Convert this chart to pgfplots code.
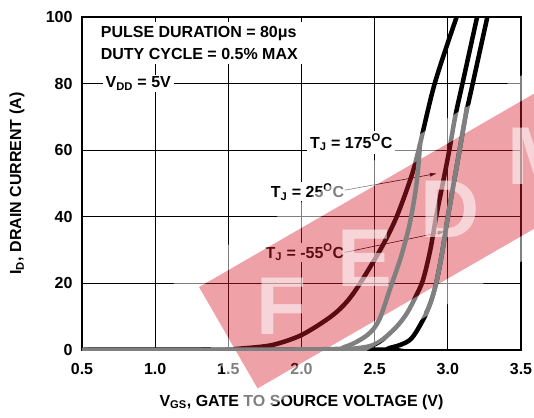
\documentclass[border=0pt]{standalone}
\usepackage{pgfplots}
\usepackage{pgfplotstable}
\pgfplotsset{compat=1.18}
\usepackage{fontspec}
\setmainfont{Liberation Sans}
\usetikzlibrary{arrows.meta}
\definecolor{wmred}{RGB}{215,30,45}
\newcommand{\fs}{\fontsize{16}{22}\selectfont\bfseries}

\pgfplotstableread{
V I
0.50 0
1.40 0.1
1.60 0.5
1.80 1.5
2.00 4.5
2.20 10.0
2.31 14.5
2.40 20
2.55 31
2.65 40
2.75 52
2.80 60
2.91 80
3.06 100
}\tHot
\pgfplotstableread{
V I
0.50 0
2.20 0.1
2.35 0.4
2.47 1.2
2.55 3
2.65 7
2.72 11
2.78 16
2.83 21
2.88 30
2.92 40
2.97 51
3.01 60
3.05 70
3.10 80
3.20 100
}\tRoom
\pgfplotstableread{
V I
0.50 0
2.45 0.1
2.60 0.6
2.74 3
2.83 9
2.88 14
2.92 20
2.96 29
3.00 40
3.04 50
3.08 60
3.12 70
3.17 80
3.27 100
}\tCold
\pgfplotstableread{
V I
2.85 11
2.88 14
2.92 20
2.96 29
3.00 40
3.04 50
3.08 60
3.12 70
3.13 73
}\tColdMid
\pgfplotstableread{
V I
0.50 0
2.10 0.2
2.30 1.0
2.45 4.5
2.53 9
2.61 19
2.68 28
2.74 38
2.78 48
2.80 56
2.81 62
}\tGhost

\begin{document}
\begin{tikzpicture}
\begin{axis}[
  name=ax1,
  width=439pt, height=333pt, scale only axis,
  xmin=0.5, xmax=3.5, ymin=0, ymax=100,
  xtick={0.5,1,1.5,2,2.5,3,3.5},
  xticklabels={0.5,1.0,1.5,2.0,2.5,3.0,3.5},
  ytick={0,20,40,60,80,100},
  yticklabels={0,20,40,60,80,100},
  major tick length=0pt,
  grid=major,
  grid style={black, line width=0.8pt},
  axis line style={black, line width=1.4pt},
  tick label style={font=\fs},
  xticklabel style={yshift=-10pt},
  yticklabel style={xshift=-6pt},
  xlabel={V\textsubscript{GS}, GATE TO SOURCE VOLTAGE (V)},
  ylabel={I\textsubscript{D}, DRAIN CURRENT (A)},
  label style={font=\fs},
  xlabel style={at={(axis description cs:0.5,-0.156)}, anchor=center},
  ylabel style={at={(axis description cs:-0.148,0.5)}, anchor=center, rotate=0},
  clip mode=individual,
]
\addplot[black, line width=4.5pt, smooth, tension=0.5] table {\tHot};
\addplot[black, line width=4.5pt, smooth, tension=0.5] table {\tRoom};
\addplot[black, line width=4.5pt, smooth, tension=0.5] table {\tCold};

\node[fill=white, inner sep=4pt, anchor=north west, align=left, font=\fs]
  at (axis cs:0.60,98.5) {PULSE DURATION = 80μs\\DUTY CYCLE = 0.5\% MAX};
\node[fill=white, inner xsep=3pt, inner ysep=2pt, anchor=west, font=\fs]
  at (axis cs:0.64,80) {V\textsubscript{DD} = 5V};
\node[fill=white, inner sep=3pt, font=\fs] at (axis cs:2.34,62.3)
  {T\textsubscript{J} = 175\textsuperscript{O}C};
\node[fill=white, inner sep=1pt, anchor=east, font=\fs] at (axis cs:2.30,47.5)
  {T\textsubscript{J} = 25\textsuperscript{O}C};
\node[fill=white, inner sep=1pt, anchor=east, font=\fs] at (axis cs:2.30,29.3)
  {T\textsubscript{J} = -55\textsuperscript{O}C};
\draw[-{Latex[length=7pt,width=4pt]}, line width=0.6pt] (axis cs:2.295,48) -- (axis cs:2.925,53);
\draw[-{Latex[length=7pt,width=4pt]}, line width=0.6pt] (axis cs:2.295,29.3) -- (axis cs:2.98,35.6);
\coordinate (wm) at (axis cs:1.30,18.9);
\end{axis}

% watermark
\begin{scope}[overlay, shift={(wm)}, rotate=30]
  \fill[white, opacity=0.5, even odd rule]
    (-20pt,22pt) rectangle (480pt,-139pt)
    (0pt,0pt) rectangle (460pt,-117pt);
  \fill[wmred, opacity=0.42] (0pt,0pt) rectangle (460pt,-117pt);
  \begin{scope}[every node/.style={text=white, opacity=0.55, font=\fontsize{82}{82}\selectfont\bfseries}]
    \node at (62pt,-58pt) {F};
    \node at (158pt,-58pt) {E};
    \node at (256pt,-58pt) {D};
    \node at (362pt,-58pt) {M};
  \end{scope}
\end{scope}

\begin{axis}[
  at={(ax1.south west)}, anchor=south west,
  width=439pt, height=333pt, scale only axis,
  xmin=0.5, xmax=3.5, ymin=0, ymax=100,
  hide axis,
]
\addplot[black!50, line width=4.5pt, smooth, tension=0.5] table {\tGhost};
\addplot[black!50, line width=4.5pt, smooth, tension=0.5] table {\tColdMid};
\end{axis}

\pgfresetboundingbox
\useasboundingbox ([shift={(-82pt,-67pt)}]ax1.south west) rectangle ([shift={(13pt,17pt)}]ax1.north east);
\end{tikzpicture}
\end{document}
